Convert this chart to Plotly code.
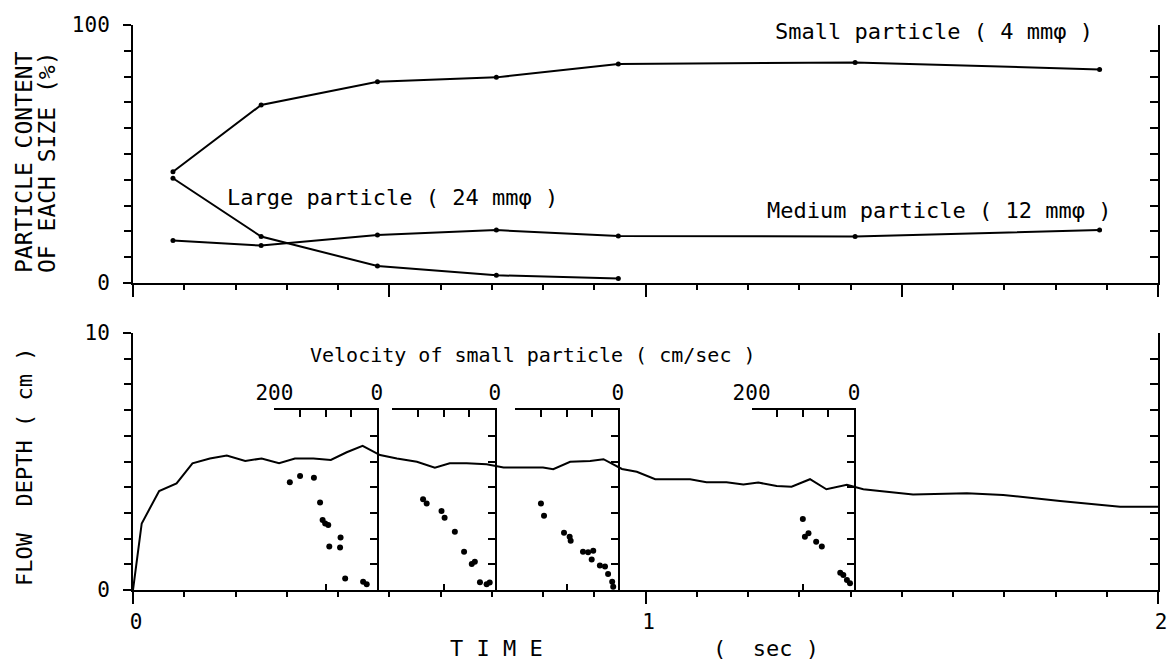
import plotly.graph_objects as go

# ---------------- data ----------------
# Top panel: particle content (%) at sampling times (sec)
sample_times = [0.078, 0.250, 0.477, 0.709, 0.947, 1.409, 1.886]
small_pct = [43.1, 69.0, 78.0, 79.7, 84.9, 85.5, 82.8]
medium_pct = [16.5, 14.5, 18.6, 20.5, 18.2, 18.0, 20.5]
large_times = [0.078, 0.250, 0.477, 0.709, 0.947]
large_pct = [40.6, 18.0, 6.6, 3.0, 1.7]

# Bottom panel: flow depth (cm) vs time (sec)
flow_t = [0.0, 0.017, 0.051, 0.085, 0.116, 0.150, 0.183, 0.219, 0.251, 0.285,
          0.316, 0.352, 0.386, 0.417, 0.448, 0.482, 0.515, 0.554, 0.589, 0.618,
          0.651, 0.690, 0.723, 0.800, 0.820, 0.853, 0.892, 0.918, 0.954, 0.983,
          1.019, 1.048, 1.087, 1.119, 1.158, 1.191, 1.220, 1.256, 1.285, 1.321,
          1.353, 1.393, 1.425, 1.457, 1.522, 1.627, 1.698, 1.809, 1.926, 2.0]
flow_d = [0.0, 2.59, 3.85, 4.15, 4.93, 5.12, 5.23, 5.02, 5.12, 4.93,
          5.12, 5.12, 5.06, 5.36, 5.61, 5.25, 5.12, 4.99, 4.76, 4.93,
          4.93, 4.89, 4.77, 4.77, 4.70, 4.99, 5.02, 5.09, 4.71, 4.60,
          4.31, 4.31, 4.31, 4.19, 4.19, 4.11, 4.18, 4.05, 4.02, 4.31,
          3.92, 4.09, 3.92, 3.85, 3.72, 3.76, 3.70, 3.46, 3.24, 3.24]

# Velocity profiles of small particles (cm/sec vs depth cm) at four times
profile_times = [0.476, 0.706, 0.946, 1.407]
profile_v = [
    [170, 150, 123, 111, 106, 101, 95, 71, 93, 72, 62, 27, 20],
    [140, 133, 104, 98, 78, 60, 45, 39, 29, 16, 10],
    [150, 144, 105, 94, 92, 68, 58, 48, 51, 35, 25, 19, 11, 9],
    [100, 96, 89, 74, 63, 27, 21, 14, 8],
]
profile_d = [
    [4.19, 4.44, 4.37, 3.40, 2.72, 2.59, 2.53, 2.04, 1.69, 1.65, 0.45, 0.32, 0.22],
    [3.53, 3.37, 3.07, 2.81, 2.27, 1.49, 1.01, 1.10, 0.30, 0.22, 0.29],
    [3.37, 2.89, 2.23, 2.07, 1.92, 1.49, 1.47, 1.53, 1.19, 0.95, 0.91, 0.62, 0.32, 0.13],
    [2.76, 2.07, 2.21, 1.88, 1.69, 0.67, 0.58, 0.39, 0.26],
]
velocity_ticks = [200, 150, 100, 50, 0]
velocity_bottom_ticks = [200, 100]
velocity_labels = [
    ["200", "", "", "", "0"],
    ["", "", "", "", "0"],
    ["", "", "", "", "0"],
    ["200", "", "", "", "0"],
]
VEL_MAX = 200          # cm/sec shown on each velocity scale
VEL_PER_SEC = 1000     # cm/sec per second of time axis
BOX_DEPTH = 7          # top of each velocity scale (cm)

# ---------------- layout helpers ----------------
W, H = 1168, 665
FONT = "DejaVu Sans Mono"


def px(x):
    return x / W


def py(y):
    return 1 - y / H


X0, X1 = px(133), px(1158)
TOP = [py(283), py(25)]
BOT = [py(590), py(333)]
T_RANGE = [0, 2]
D_RANGE = [0, 10]


def tx(t):
    return X0 + (t - T_RANGE[0]) / (T_RANGE[1] - T_RANGE[0]) * (X1 - X0)


LW = 2
BLACK = "black"
tickfont = dict(family=FONT, size=21, color=BLACK)

fig = go.Figure()

# top panel lines
for xs, ys in [(sample_times, small_pct), (sample_times, medium_pct), (large_times, large_pct)]:
    fig.add_trace(go.Scatter(x=xs, y=ys, mode="lines+markers",
                             line=dict(color=BLACK, width=LW),
                             marker=dict(color=BLACK, size=5),
                             xaxis="x", yaxis="y", showlegend=False, hoverinfo="skip"))

# flow depth line
fig.add_trace(go.Scatter(x=flow_t, y=flow_d, mode="lines",
                         line=dict(color=BLACK, width=LW),
                         xaxis="x2", yaxis="y2", showlegend=False, hoverinfo="skip"))

# invisible traces for right-side axes
fig.add_trace(go.Scatter(x=[None], y=[None], xaxis="x", yaxis="y3", showlegend=False))
fig.add_trace(go.Scatter(x=[None], y=[None], xaxis="x2", yaxis="y4", showlegend=False))

# velocity profile boxes
for i, t0 in enumerate(profile_times):
    k = i + 3          # velocity axis (top)
    kb = i + 7         # velocity ticks at the bottom
    yk = i + 5         # depth axis of the box (right)
    dom_x = [tx(t0 - VEL_MAX / VEL_PER_SEC), tx(t0)]
    fig.add_trace(go.Scatter(x=profile_v[i], y=profile_d[i], mode="markers",
                             marker=dict(color=BLACK, size=6),
                             xaxis=f"x{k}", yaxis=f"y{yk}",
                             showlegend=False, hoverinfo="skip"))
    fig.add_trace(go.Scatter(x=[None], y=[None], xaxis=f"x{kb}", yaxis=f"y{yk}",
                             showlegend=False, hoverinfo="skip"))
    fig.layout[f"xaxis{k}"] = dict(
        domain=dom_x,
        range=[VEL_MAX, 0], anchor=f"y{yk}", side="top",
        showline=True, linecolor=BLACK, linewidth=LW,
        ticks="inside", tickvals=velocity_ticks, ticktext=velocity_labels[i],
        ticklen=7, tickwidth=LW, tickcolor=BLACK, tickfont=tickfont,
        showgrid=False, zeroline=False, fixedrange=True, automargin=False)
    fig.layout[f"xaxis{kb}"] = dict(
        domain=dom_x, overlaying=f"x{k}",
        range=[VEL_MAX, 0], anchor=f"y{yk}", side="bottom",
        showline=False, ticks="inside", tickvals=velocity_bottom_ticks,
        showticklabels=False, ticklen=6, tickwidth=LW, tickcolor=BLACK,
        showgrid=False, zeroline=False, fixedrange=True, automargin=False)
    fig.layout[f"yaxis{yk}"] = dict(
        domain=[BOT[0], BOT[0] + BOX_DEPTH / (D_RANGE[1] - D_RANGE[0]) * (BOT[1] - BOT[0])],
        range=[0, BOX_DEPTH], anchor=f"x{k}", side="right",
        showline=True, linecolor=BLACK, linewidth=LW,
        ticks="inside", dtick=1, ticklen=7, tickwidth=LW, tickcolor=BLACK,
        showticklabels=False, showgrid=False, zeroline=False, fixedrange=True,
        automargin=False)

common = dict(showline=True, linecolor=BLACK, linewidth=LW, tickcolor=BLACK,
              tickwidth=LW, showgrid=False, zeroline=False, tickfont=tickfont,
              fixedrange=True, automargin=False)

fig.update_layout(
    width=W, height=H, margin=dict(l=0, r=0, t=0, b=0, pad=0),
    paper_bgcolor="white", plot_bgcolor="rgba(0,0,0,0)",
    showlegend=False,
    xaxis=dict(domain=[X0, X1], range=T_RANGE, anchor="y", ticks="outside",
               tickvals=[0, 0.5, 1, 1.5, 2], ticklen=12, showticklabels=False,
               minor=dict(dtick=0.1, ticks="outside", ticklen=5, tickwidth=LW, tickcolor=BLACK),
               **common),
    yaxis=dict(domain=TOP, range=[0, 100], anchor="x", ticks="outside",
               tickvals=[0, 100], ticktext=["0", "100"], ticklen=8,
               ticklabelstandoff=9,
               minor=dict(dtick=10, ticks="outside", ticklen=7, tickwidth=LW, tickcolor=BLACK),
               **common),
    yaxis3=dict(overlaying="y", anchor="x", side="right", range=[0, 100],
                ticks="inside", dtick=10, ticklen=8, showticklabels=False, **common),
    xaxis2=dict(domain=[X0, X1], range=T_RANGE, anchor="y2", ticks="outside",
                tickvals=[0, 1, 2], ticktext=["0", "1", "2"], ticklen=12,
                ticklabelstandoff=0, ticklabelshift=3,
                minor=dict(dtick=0.1, ticks="outside", ticklen=5, tickwidth=LW, tickcolor=BLACK),
                **common),
    yaxis2=dict(domain=BOT, range=D_RANGE, anchor="x2", ticks="outside",
                tickvals=[0, 10], ticktext=["0", "10"], ticklen=8,
                ticklabelstandoff=9,
                minor=dict(dtick=1, ticks="outside", ticklen=7, tickwidth=LW, tickcolor=BLACK),
                **common),
    yaxis4=dict(overlaying="y2", anchor="x2", side="right", range=D_RANGE,
                ticks="inside", dtick=1, ticklen=8, showticklabels=False, **common),
)

# text annotations
def ann(text, x, y, size=22, angle=0):
    fig.add_annotation(text=text, x=px(x), y=py(y), xref="paper", yref="paper",
                       xanchor="center", yanchor="middle", showarrow=False,
                       textangle=angle, font=dict(family=FONT, size=size, color=BLACK))


ann("Small particle ( 4 mmφ )", 934, 32)
ann("Large particle ( 24 mmφ )", 392, 197)
ann("Medium particle ( 12 mmφ )", 939, 210)
ann("Velocity of small particle ( cm/sec )", 533, 355, size=20)
ann("T I M E", 496, 648)
ann("(  sec )", 766, 648)
ann("PARTICLE CONTENT", 24, 162, size=23, angle=-90)
ann("OF EACH SIZE (%)", 47, 162, size=23, angle=-90)
ann("FLOW  DEPTH ( cm )", 24, 467, size=22, angle=-90)

fig.write_html("out.html", config={"displayModeBar": False},
               post_script="document.body.style.margin='0';")
